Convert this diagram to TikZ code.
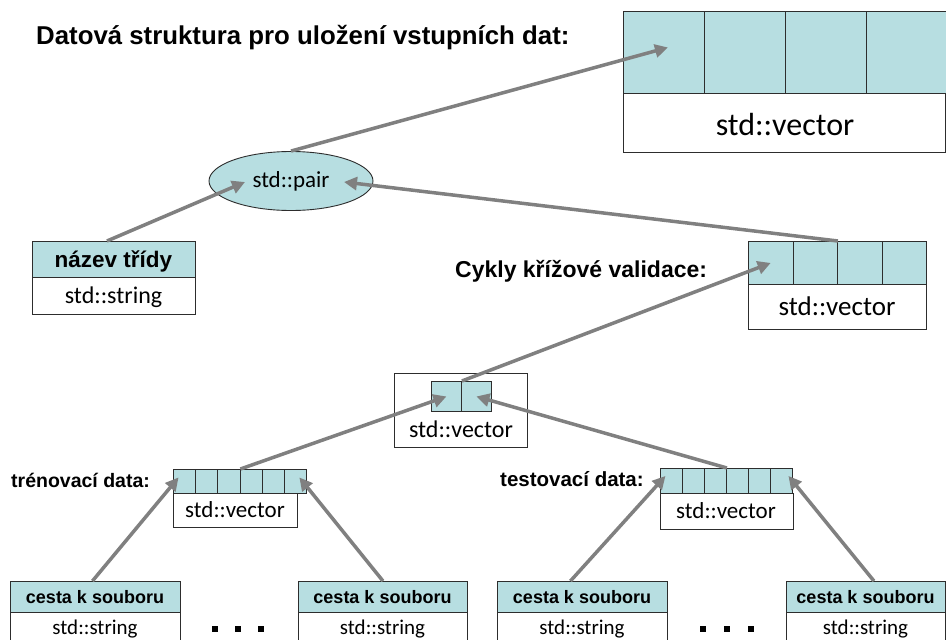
\documentclass[tikz,border=0pt]{standalone}
\usepackage{fontspec}
\setmainfont{Carlito}
\newfontfamily\lab{Liberation Sans}
\usetikzlibrary{arrows.meta,shapes.geometric,calc}
\definecolor{cellc}{RGB}{183,222,225}
\definecolor{arrc}{RGB}{128,128,128}
\definecolor{edgec}{RGB}{45,45,45}
\tikzset{
  box/.style={draw=edgec, line width=0.9pt, inner sep=0pt, anchor=north west, fill=white},
  cellbox/.style={box, fill=cellc},
  arr/.style={draw=arrc, line width=3.5pt, -{Triangle[length=13pt,width=13pt]}},
  lbl/.style={font=\lab\bfseries, inner sep=0pt, anchor=base west},
  txt/.style={inner sep=0pt, anchor=base},
  dot/.style={fill=black, minimum size=6pt, inner sep=0pt}
}
\begin{document}
\begin{tikzpicture}[x=1pt,y=-1pt]
\clip (0,0) rectangle (946,640);
\fill[white] (0,0) rectangle (946,640);

% title
\node[lbl, font=\lab\bfseries\fontsize{25.8}{30}\selectfont] (title) at (36,44) {Datová struktura pro uložení vstupních dat:};

% top vector
\node[box, minimum width=322pt, minimum height=141pt] (vtop) at (623,11) {};
\foreach \i in {0,...,3}
  \node[cellbox, minimum width=81pt, minimum height=82pt] (vc\i) at ({623+81*\i},11) {};
\node[txt, font=\fontsize{32}{38}\selectfont] (vtopt) at (785,135) {std::vector};

% pair
\node[ellipse, draw=edgec, line width=0.9pt, fill=cellc, minimum width=164pt, minimum height=59pt, inner sep=0pt, font=\fontsize{23}{28}\selectfont] (pair) at (291,181) {std::pair};

% class name box
\node[cellbox, minimum width=163pt, minimum height=36pt] (nh) at (32,241) {};
\node[box, minimum width=163pt, minimum height=37pt] (nb) at (32,277) {};
\node[txt, font=\lab\bfseries\fontsize{22.5}{27}\selectfont] (nht) at (113.5,267) {název třídy};
\node[txt, font=\fontsize{24}{29}\selectfont] (nbt) at (113.5,303) {std::string};

% cross validation vector
\node[lbl, font=\lab\bfseries\fontsize{23}{28}\selectfont] (cyk) at (455,277) {Cykly křížové validace:};
\node[box, minimum width=178pt, minimum height=88pt] (cv) at (748,241) {};
\foreach \i in {0,...,3}
  \node[cellbox, minimum width=44.5pt, minimum height=43pt] (cc\i) at ({748+44.5*\i},241) {};
\node[txt, font=\fontsize{27}{32}\selectfont] (cvt) at (837,315) {std::vector};

% middle vector
\node[box, minimum width=133pt, minimum height=74pt] (mv) at (394,373) {};
\foreach \i in {0,1}
  \node[cellbox, minimum width=30pt, minimum height=30pt] (mc\i) at ({431+30*\i},381) {};
\node[txt, font=\fontsize{24}{29}\selectfont] (mvt) at (461,437) {std::vector};

% training vector
\node[lbl, font=\lab\bfseries\fontsize{19.5}{24}\selectfont] (trl) at (11,487) {trénovací data:};
\node[box, minimum width=124pt, minimum height=34pt] (tv) at (173,493) {};
\foreach \i in {0,...,5}
  \node[cellbox, minimum width=22.17pt, minimum height=24pt] (tc\i) at ({173+22.17*\i},469) {};
\node[txt, font=\fontsize{23}{28}\selectfont] (tvt) at (235,517) {std::vector};

% testing vector
\node[lbl, font=\lab\bfseries\fontsize{20.5}{25}\selectfont] (tsl) at (500,486) {testovací data:};
\node[box, minimum width=133pt, minimum height=36pt] (sv) at (660,493) {};
\foreach \i in {0,...,5}
  \node[cellbox, minimum width=22pt, minimum height=25pt] (sc\i) at ({660+22*\i},468) {};
\node[txt, font=\fontsize{23}{28}\selectfont] (svt) at (726,518) {std::vector};

% bottom string boxes
\foreach \n/\x/\w in {1/10/170, 2/298/169, 3/497/170, 4/786/159} {
  \node[cellbox, minimum width=\w pt, minimum height=31pt] (b\n h) at (\x,581) {};
  \node[box, minimum width=\w pt, minimum height=50pt] (b\n b) at (\x,612) {};
  \node[txt, font=\lab\bfseries\fontsize{18}{22}\selectfont] (b\n ht) at ({\x+\w/2},603) {cesta k souboru};
  \node[txt, font=\fontsize{21}{25}\selectfont] (b\n bt) at ({\x+\w/2},634) {std::string};
}

% ellipsis dots
\node[dot] (d1) at (215,629) {};
\node[dot] (d2) at (238,629) {};
\node[dot] (d3) at (261,629) {};
\node[dot] (d4) at (703,629) {};
\node[dot] (d5) at (727,629) {};
\node[dot] (d6) at (751,629) {};

% arrows
\draw[arr] (pair.north) -- ($(vc0.center)+(4,-5)$);
\draw[arr] ($(nh.north)+(-7,0)$) -- ($(pair.center)+(-46,1)$);
\draw[arr] (cc1.north east) -- ($(pair.center)+(53,1)$);
\draw[arr] (mc0.north east) -- (cc0.center);
\draw[arr] (tc2.north east) -- (mc0.center);
\draw[arr] (sc2.north east) -- (mc1.center);
\draw[arr] ($(b1h.north)+(-3,0)$) -- ($(tc0.center)+(-6,-4)$);
\draw[arr] (b2h.north) -- ($(tc5.center)+(4,-4)$);
\draw[arr] ($(b3h.north)+(-12,0)$) -- ($(sc0.center)+(-6,-5)$);
\draw[arr] ($(b4h.north)+(8,0)$) -- ($(sc5.center)+(7,-5)$);
\end{tikzpicture}
\end{document}
